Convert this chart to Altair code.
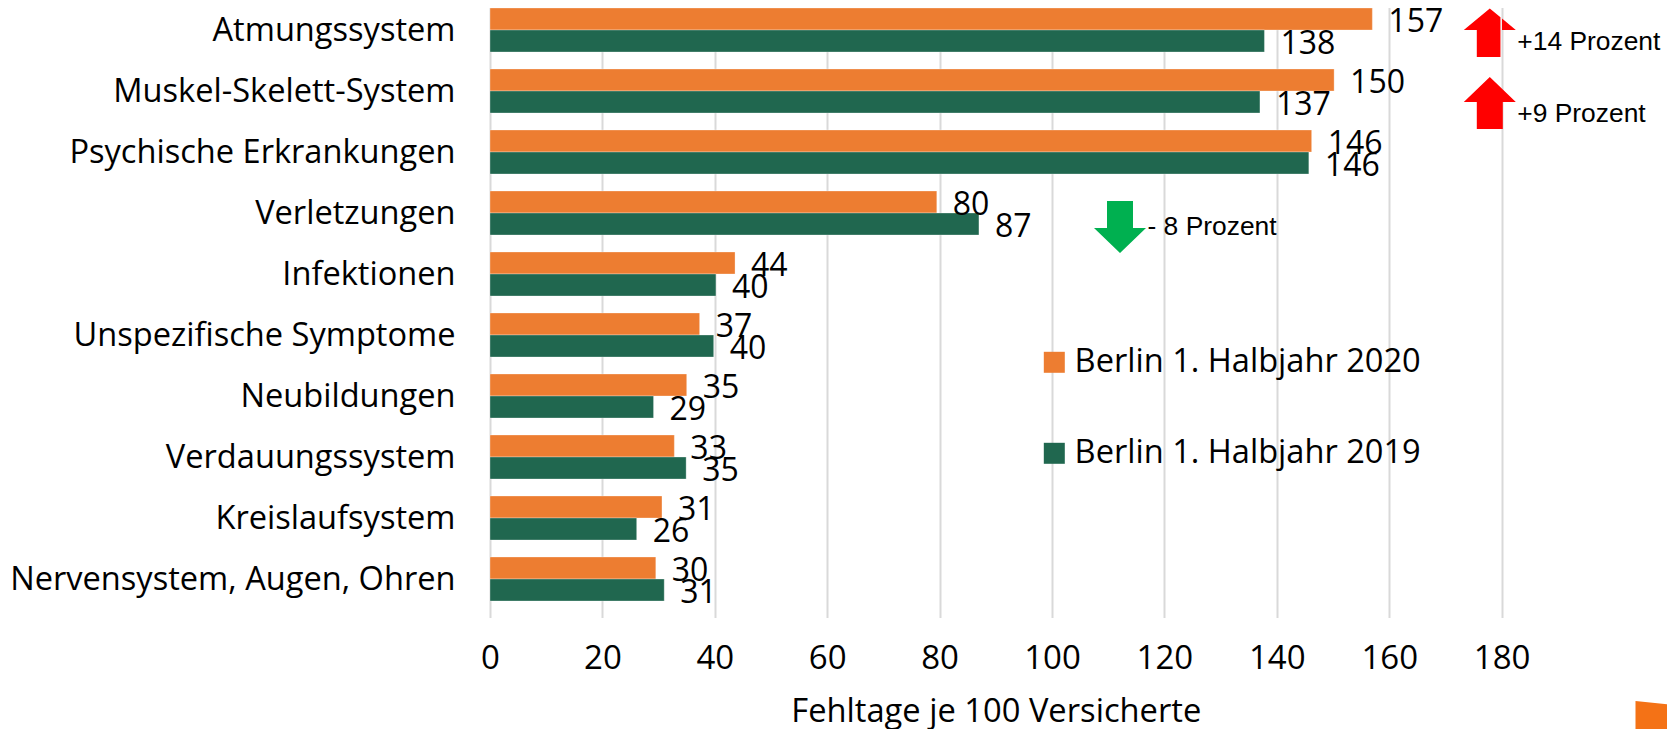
import altair as alt
import pandas as pd

categories = ["Atmungssystem", "Muskel-Skelett-System", "Psychische Erkrankungen", "Verletzungen",
              "Infektionen", "Unspezifische Symptome", "Neubildungen", "Verdauungssystem",
              "Kreislaufsystem", "Nervensystem, Augen, Ohren"]
series_names = ["Berlin 1. Halbjahr 2020", "Berlin 1. Halbjahr 2019"]
values_2020 = [157, 150.2, 146.2, 79.5, 43.6, 37.3, 35, 32.8, 30.6, 29.5]
values_2019 = [137.8, 137, 145.7, 87, 40.2, 39.8, 29.1, 34.9, 26.1, 31]
labels_2020 = ["157", "150", "146", "80", "44", "37", "35", "33", "31", "30"]
labels_2019 = ["138", "137", "146", "87", "40", "40", "29", "35", "26", "31"]
notes = ["+14 Prozent", "+9 Prozent", "- 8 Prozent"]
note_rows = ["Atmungssystem", "Muskel-Skelett-System", "Verletzungen"]
note_x = [177.9, 177.9, 112.1]

ORANGE, GREEN = "#ED7D31", "#20674F"
rows = []
for s, vals, labs in zip(series_names, [values_2020, values_2019], [labels_2020, labels_2019]):
    for c, v, l in zip(categories, vals, labs):
        rows.append({"cat": c, "series": s, "value": v, "label": l})
df = pd.DataFrame(rows)

CAT = "Open Sans"
x = alt.X("value:Q", scale=alt.Scale(domain=[0, 180], nice=False),
          axis=alt.Axis(values=list(range(0, 181, 20)), grid=True, gridColor="#D9D9D9", gridWidth=2,
                        domain=False, ticks=False, labelFont=CAT, labelFontSize=33, labelColor="#000000",
                        labelPadding=33, labelFlush=False, labelOverlap=False,
                        title="Fehltage je 100 Versicherte", titleFont=CAT, titleFontSize=32.7,
                        titleFontWeight="normal", titleColor="#000000", titlePadding=20))
y = alt.Y("cat:N", sort=categories,
          scale=alt.Scale(domain=categories, range=[-8.5, 601.5], paddingInner=0, paddingOuter=0),
          axis=alt.Axis(title=None, domain=False, ticks=False, grid=False, labelFont=CAT, labelFontSize=32.6,
                        labelColor="#000000", labelPadding=35, labelLimit=600, labelOffset=1))
yoff = alt.YOffset("series:N", sort=series_names, scale=alt.Scale(domain=series_names, paddingInner=0, paddingOuter=0.386))

base = alt.Chart(df)
bars = base.mark_bar(stroke="#FFFFFF", strokeWidth=0.5, strokeOpacity=0.6).encode(
    x=x, y=y, yOffset=yoff,
    color=alt.Color("series:N", sort=series_names,
                    scale=alt.Scale(domain=series_names, range=[ORANGE, GREEN]),
                    legend=alt.Legend(title=None, orient="none", legendX=548, legendY=338, symbolType="square",
                                      symbolSize=441, symbolStrokeWidth=0, symbolOpacity=1, labelFont=CAT, labelFontSize=32.6,
                                      labelColor="#000000", rowPadding=58, labelOffset=4, labelLimit=500, values=series_names)))
texts = base.mark_text(align="left", baseline="middle", dx=16, dy=3, font=CAT, fontSize=32, color="#000000").encode(
    x=alt.X("value:Q"), y=y, yOffset=yoff, text="label:N")

# first arrow: tip kept inside the page, split where the 180 grid line runs through it
UP1 = ("M0,-0.865 L0.41,-0.527 L0.41,1 L-0.5,1 L-0.5,-0.04 L-1,-0.04 Z "
       "M0.47,-0.477 L1,-0.04 L0.47,-0.04 Z")
UP = "M0,-1 L1,-0.04 L0.5,-0.04 L0.5,1 L-0.5,1 L-0.5,-0.04 L-1,-0.04 Z"
DOWN = "M0,1 L1,0.04 L0.5,0.04 L0.5,-1 L-0.5,-1 L-0.5,0.04 L-1,0.04 Z"
CORNER = "M-1,-0.725 L1,-0.525 L1,0.725 L-1,0.725 Z"

layers = [bars, texts]
arrow_shift = [1, 12, 14]
text_shift = [12, 23, 14]
text_dx = [27.5, 27.5, 27.5]
arrow_style = [(UP1, "#FF0000"), (UP, "#FF0000"), (DOWN, "#00B050")]
for i in range(3):
    d = pd.DataFrame({"cat": [note_rows[i]], "value": [note_x[i]], "note": [notes[i]]})
    shape, col = arrow_style[i]
    layers.append(alt.Chart(d).mark_point(shape=shape, size=2704, filled=True, fill=col, stroke=None, opacity=1,
                                          yOffset=arrow_shift[i]).encode(x=alt.X("value:Q"), y=y))
    layers.append(alt.Chart(d).mark_text(align="left", baseline="middle", dx=text_dx[i], yOffset=text_shift[i],
                                         font="Liberation Sans", fontSize=26.4, color="#000000").encode(
        x=alt.X("value:Q"), y=y, text="note:N"))

corner = alt.Chart(pd.DataFrame({"k": [0]})).mark_point(shape=CORNER, size=1600, filled=True, fill="#F47216",
                                                        stroke=None, opacity=1).encode(
    x=alt.value(1165.5), y=alt.value(707.5))
layers.append(corner)

chart = alt.layer(*layers).properties(
    width=1011.6, height=601,
    autosize=alt.AutoSizeParams(type="none"),
    padding={"left": 482, "top": 0, "right": 165.4, "bottom": 120},
    background="#FFFFFF",
).configure_view(stroke=None)

chart.save("out.html", embed_options={"renderer": "svg", "actions": False})
